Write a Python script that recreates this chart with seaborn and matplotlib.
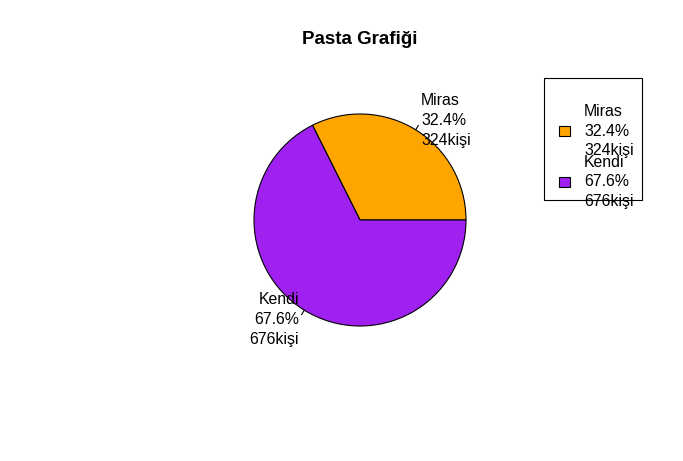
import numpy as np
import matplotlib
matplotlib.use("Agg")
import matplotlib.pyplot as plt
import seaborn as sns

# data
labels = ["Miras", "Kendi"]
counts = [324, 676]
colors = ["#FFA500", "#A020F0"]
title = "Pasta Grafiği"

sns.set_style("white")
plt.rcParams['font.family'] = ['Liberation Sans', 'DejaVu Sans']
plt.rcParams['text.color'] = 'black'

total = sum(counts)
pcts = [c / total * 100 for c in counts]
texts = [f"{l}\n{p:.1f}%\n{c}kişi" for l, p, c in zip(labels, pcts, counts)]

W, H = 683, 461
fig = plt.figure(figsize=(W / 100, H / 100), dpi=100)
fig.patch.set_facecolor("white")

cx, cy, r = 360, 220, 106
ax = fig.add_axes([(cx - r) / W, (H - cy - r) / H, 2 * r / W, 2 * r / H])

wedges, txts = ax.pie(counts, labels=texts, colors=colors, startangle=0,
                      counterclock=True, labeldistance=1.1,
                      wedgeprops=dict(edgecolor="black", linewidth=0.8),
                      textprops=dict(fontsize=11.4, linespacing=1.4, color="black"))
for t in txts:
    t.set_verticalalignment("center")

# small tick lines like R's pie
for w in wedges:
    ang = np.deg2rad((w.theta1 + w.theta2) / 2)
    ax.plot([np.cos(ang), 1.05 * np.cos(ang)], [np.sin(ang), 1.05 * np.sin(ang)],
            color="black", lw=0.8, clip_on=False)

ax.set_xlim(-1, 1)
ax.set_ylim(-1, 1)
ax.axis("off")

fig.text(cx / W, 1 - 40 / H, title, ha="center", va="center",
         fontsize=13.5, fontweight="bold", color="black")

# legend box (R style, text overflowing the box)
box = plt.Rectangle((544 / W, 1 - 200 / H), 98 / W, 122 / H,
                    transform=fig.transFigure, fill=False, edgecolor="black", lw=0.8)
fig.patches.append(box)
for i, (t, col) in enumerate(zip(texts, colors)):
    yc = 131 + i * 51
    sq = plt.Rectangle((559 / W, 1 - (yc + 5) / H), 11 / W, 10 / H,
                       transform=fig.transFigure, facecolor=col,
                       edgecolor="black", lw=0.8)
    fig.patches.append(sq)
    fig.text(584 / W, 1 - yc / H, t, ha="left", va="center",
             fontsize=11.4, linespacing=1.4, color="black")

fig.savefig("out.png", dpi=100)
